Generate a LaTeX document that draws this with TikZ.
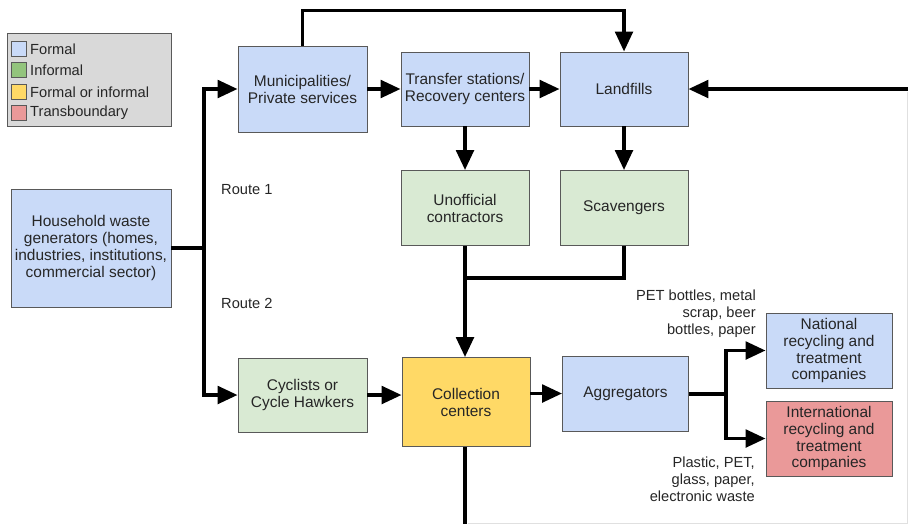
\documentclass[tikz,border=0pt]{standalone}
\usepackage{fontspec}
\setmainfont{Liberation Sans}
\usetikzlibrary{arrows.meta}
\definecolor{fblue}{HTML}{C9DAF8}
\definecolor{fgreen}{HTML}{D9EAD3}
\definecolor{fyellow}{HTML}{FFD966}
\definecolor{fred}{HTML}{EA9999}
\definecolor{lgreen}{HTML}{93C47D}
\definecolor{legbg}{HTML}{D9D9D9}
\definecolor{bord}{HTML}{595959}
\tikzset{
  box/.style={draw=bord, line width=0.8pt, align=center, inner sep=1pt,
    font=\fontsize{13.2}{14.5}\selectfont, text=black!85},
  flow/.style={line width=3pt, -{Triangle[length=17pt,width=15pt]}},
  plain/.style={line width=3pt},
  lbl/.style={font=\fontsize{12.5}{14.6}\selectfont, text=black!85, inner sep=0pt},
  leglbl/.style={font=\fontsize{12.5}{14}\selectfont, text=black!85, inner sep=0pt}
}
\begin{document}
\begin{tikzpicture}[x=0.03cm,y=-0.03cm]
\useasboundingbox (0,0) rectangle (908,524);
\fill[white] (0,0) rectangle (908,524);
% faint frame
\draw[black!12, line width=0.6pt] (907,92) -- (907,523) -- (468,523);
% legend
\node[draw=bord, fill=legbg, line width=0.8pt, minimum width=164*0.03cm, minimum height=93*0.03cm, inner sep=0pt] (leg) at (89,80) {};
\foreach \c/\t/\y/\n in {fblue/Formal/49/la, lgreen/Informal/70/lb, fyellow/Formal or informal/92/lc, fred/Transboundary/113/ld}{
  \node[draw=bord, fill=\c, line width=0.8pt, minimum width=15*0.03cm, minimum height=15*0.03cm, inner sep=0pt] (\n) at (19,\y) {};
  \node[leglbl, anchor=west] (\n t) at (30,\y) {\t};
}
% boxes
\node[box, fill=fblue, minimum width=160*0.03cm, minimum height=118*0.03cm] (hh) at (91,248) {Household waste\\generators (homes,\\industries, institutions,\\commercial sector)};
\node[box, fill=fblue, minimum width=129*0.03cm, minimum height=86*0.03cm] (mun) at (302.5,89) {Municipalities/\\Private services};
\node[box, fill=fblue, minimum width=128*0.03cm, minimum height=74*0.03cm] (tra) at (465,89) {Transfer stations/\\Recovery centers};
\node[box, fill=fblue, minimum width=128*0.03cm, minimum height=74*0.03cm] (lan) at (624,89) {Landfills};
\node[box, fill=fgreen, minimum width=128*0.03cm, minimum height=75*0.03cm] (uno) at (465,208) {Unofficial\\contractors};
\node[box, fill=fgreen, minimum width=128*0.03cm, minimum height=75*0.03cm] (sca) at (624,208) {Scavengers};
\node[box, fill=fgreen, minimum width=129*0.03cm, minimum height=74*0.03cm] (cyc) at (302.5,395) {Cyclists or\\Cycle Hawkers};
\node[box, fill=fyellow, minimum width=128*0.03cm, minimum height=89*0.03cm] (col) at (466,402) {Collection\\centers};
\node[box, fill=fblue, minimum width=126*0.03cm, minimum height=75*0.03cm] (agg) at (625.5,393.5) {Aggregators};
\node[box, fill=fblue, minimum width=126*0.03cm, minimum height=75*0.03cm] (nat) at (829,350.5) {National\\recycling and\\treatment\\companies};
\node[box, fill=fred, minimum width=126*0.03cm, minimum height=75*0.03cm] (int) at (829,438.5) {International\\recycling and\\treatment\\companies};
% labels
\node[lbl, anchor=west] (r1) at (221,190) {Route 1};
\node[lbl, anchor=west] (r2) at (221,303) {Route 2};
\node[lbl, align=right, anchor=east] (pet) at (756,314) {PET bottles, metal\\scrap, beer\\bottles, paper};
\node[lbl, align=right, anchor=east] (pla) at (755,479) {Plastic, PET,\\glass, paper,\\electronic waste};
% coordinates
\coordinate (j1) at (204,248);
\coordinate (j2) at (726,394);
\coordinate (j3) at (465,278);
\coordinate (rin) at (908,89);
\coordinate (bout) at (465,524);
% connectors
\draw[plain] (hh.east |- j1) -- (j1);
\draw[flow] (j1) |- (mun.west);
\draw[flow] (j1) |- (cyc.west);
\draw[flow] (mun.east) -- (tra.west);
\draw[flow] (tra.east) -- (lan.west);
\draw[flow] (mun.north) -- ++(0,-35) -| (lan.north);
\draw[flow] (tra.south) -- (uno.north);
\draw[flow] (lan.south) -- (sca.north);
\draw[flow] (uno.south) -- (uno.south |- col.north);
\draw[plain] (sca.south) |- (j3);
\draw[flow] (cyc.east) -- (cyc.east -| col.west);
\draw[flow] (col.east |- agg.west) -- (agg.west);
\draw[plain] (agg.east |- j2) -- (j2);
\draw[flow] (j2) |- (nat.west);
\draw[flow] (j2) |- (int.west);
\draw[flow] (rin) -- (lan.east);
\draw[plain] (col.south -| bout) -- (bout);
\end{tikzpicture}
\end{document}
